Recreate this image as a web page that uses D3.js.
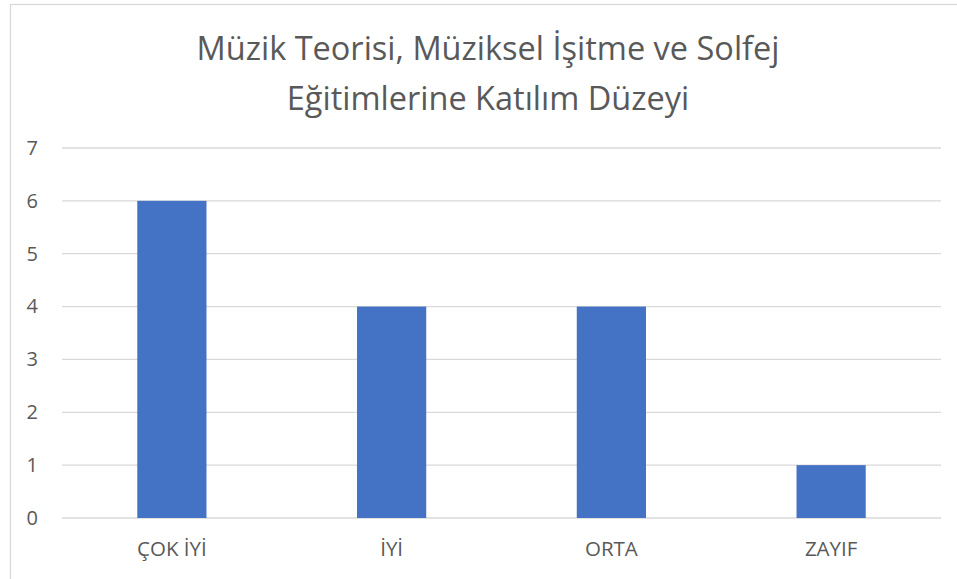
<!DOCTYPE html>
<html>
<head>
<meta charset="utf-8">
<script src="https://cdn.jsdelivr.net/npm/d3@7"></script>
<style>
  body { margin: 0; background: #fff; }
  svg text { font-family: "Open Sans", "Liberation Sans", sans-serif; }
</style>
</head>
<body>
<div class="canva"></div>
<script>
// chart data
const categories = ["ÇOK İYİ", "İYİ", "ORTA", "ZAYIF"];
const values = [6, 4, 4, 1];
const yTicks = [0, 1, 2, 3, 4, 5, 6, 7];
const titleLines = ["Müzik Teorisi, Müziksel İşitme ve Solfej", "Eğitimlerine Katılım Düzeyi"];

const width = 957, height = 579;
const svg = d3.select(".canva").append("svg")
    .attr("width", width)
    .attr("height", height);

// outer chart border (right/bottom run off the picture)
svg.append("rect")
    .attr("x", 10.5).attr("y", 4.5)
    .attr("width", 960).attr("height", 600)
    .attr("fill", "none")
    .attr("stroke", "#d9d9d9")
    .attr("stroke-width", 1.3);

const margin = {top: 148, right: 16, bottom: 61, left: 62};
const graphWidth = 941 - margin.left;
const graphHeight = 518 - margin.top;

const g = svg.append("g")
    .attr("transform", `translate(${margin.left}, ${margin.top})`);

const x = d3.scaleBand()
    .domain(categories)
    .range([0, graphWidth])
    .paddingInner(0.685)
    .paddingOuter(0.3425);

const y = d3.scaleLinear()
    .domain([0, 7])
    .range([graphHeight, 0]);

// gridlines
g.selectAll(".grid")
    .data(yTicks)
    .enter()
    .append("line")
    .attr("x1", 0).attr("x2", graphWidth)
    .attr("y1", d => y(d)).attr("y2", d => y(d))
    .attr("stroke", "#d9d9d9")
    .attr("stroke-width", 1.3);

// bars
g.selectAll(".bar")
    .data(values)
    .enter()
    .append("rect")
    .attr("x", (d, i) => x(categories[i]))
    .attr("y", d => y(d))
    .attr("width", x.bandwidth())
    .attr("height", d => graphHeight - y(d))
    .attr("fill", "#4472c4");

// y axis labels
const yAxis = d3.axisLeft(y).tickValues(yTicks).tickFormat(d3.format("d")).tickSize(0).tickPadding(24);
const ya = g.append("g").call(yAxis);
ya.select(".domain").remove();
ya.selectAll("text")
    .attr("fill", "#595959")
    .style("font-size", "20px");

// x axis labels
const xAxis = d3.axisBottom(x).tickSize(0).tickPadding(23);
const xa = g.append("g")
    .attr("transform", `translate(0, ${graphHeight})`)
    .call(xAxis);
xa.select(".domain").remove();
xa.selectAll("text")
    .attr("fill", "#595959")
    .style("font-size", "20.5px");

// title
svg.append("g").selectAll("text")
    .data(titleLines)
    .enter()
    .append("text")
    .attr("x", 488)
    .attr("y", (d, i) => 60 + i * 50)
    .attr("text-anchor", "middle")
    .attr("fill", "#595959")
    .style("font-size", "32.5px")
    .text(d => d);
</script>
</body>
</html>
